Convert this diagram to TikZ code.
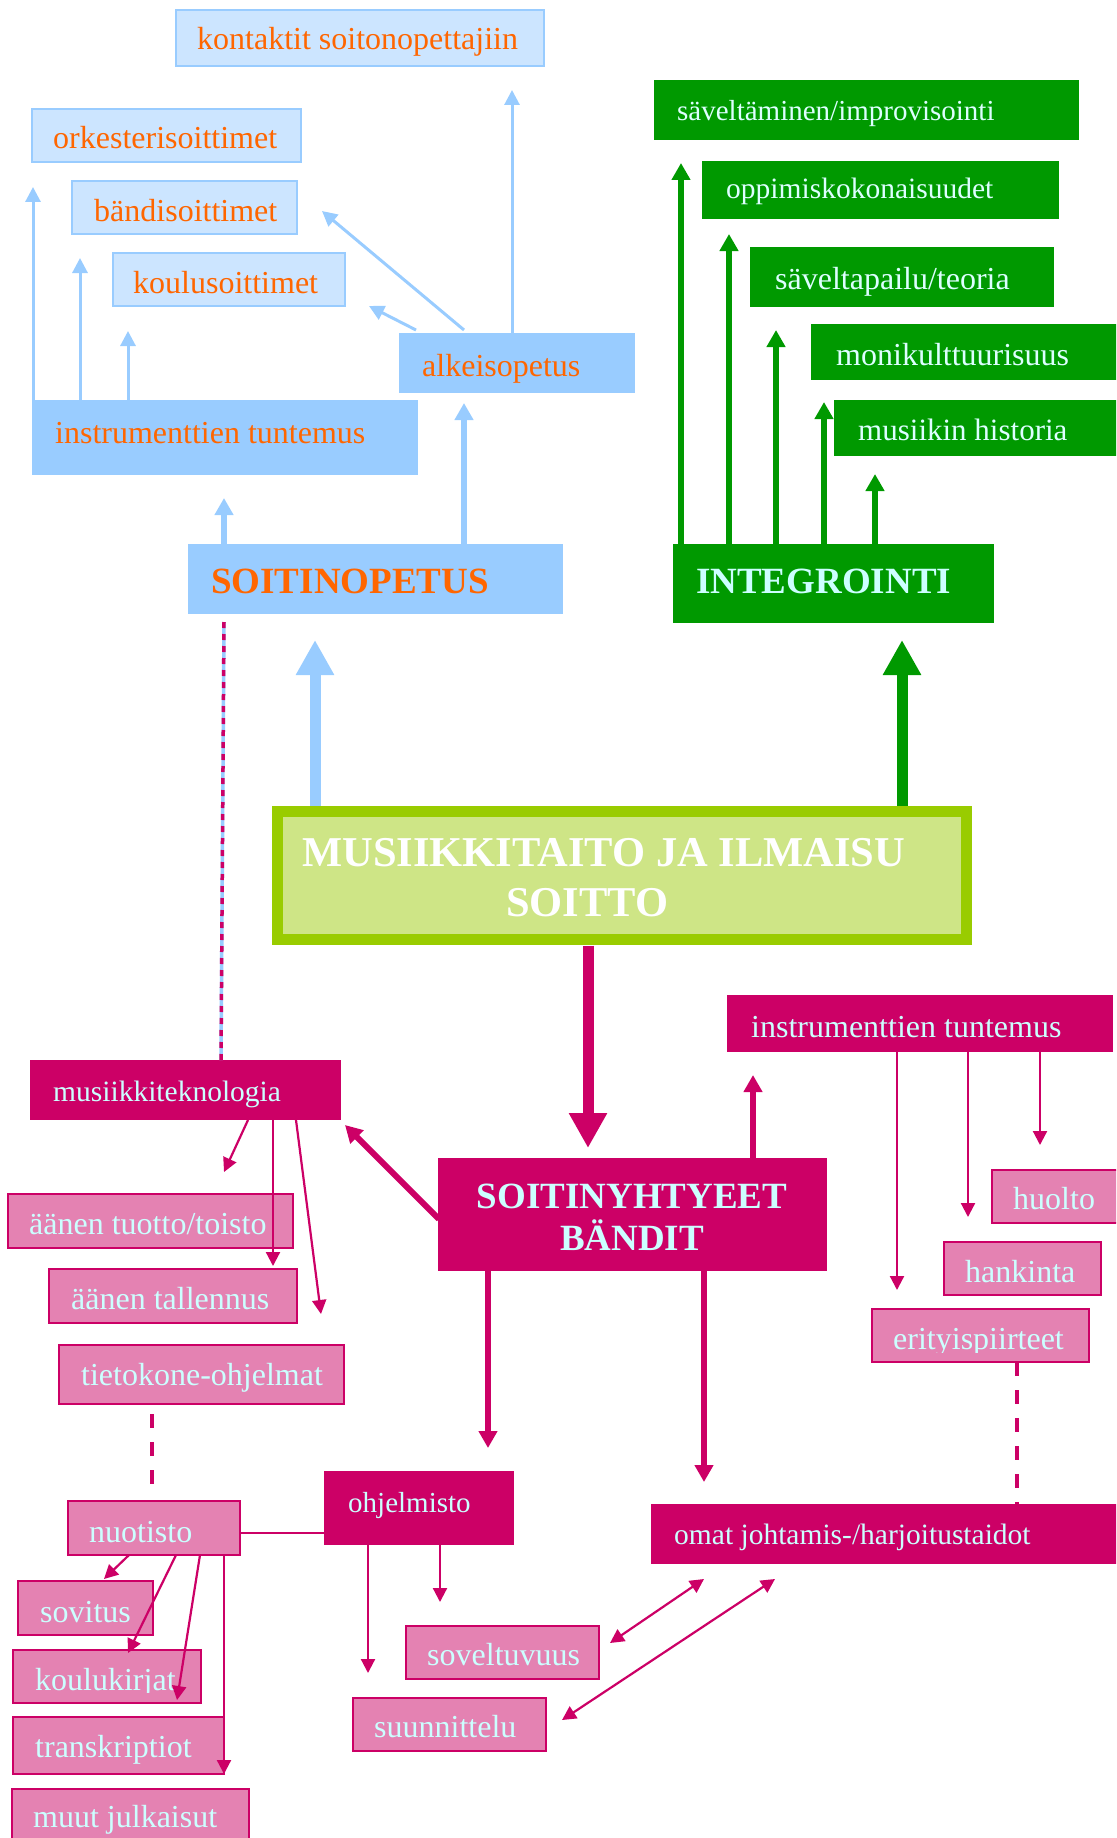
\documentclass[tikz,border=0pt]{standalone}
\usepackage{fontspec}
\setmainfont{Liberation Serif}
\usetikzlibrary{arrows.meta}
\definecolor{mag}{HTML}{CC0066}
\definecolor{pinkf}{HTML}{E482B2}
\definecolor{cyantext}{HTML}{CCFFFF}
\definecolor{gtext}{HTML}{DDFFFF}
\definecolor{grn}{HTML}{009900}
\definecolor{lblue}{HTML}{99CCFF}
\definecolor{pblue}{HTML}{CCE5FF}
\definecolor{orng}{HTML}{FF6600}
\definecolor{lime}{HTML}{99CC00}
\definecolor{limefill}{HTML}{CEE586}
\newcommand\fsz[1]{\fontsize{#1}{#1}\selectfont}
\newcommand\bx[6]{\node[#1,anchor=north west,inner sep=0pt,outer sep=0pt,minimum width={(#5-#3)*1pt},minimum height={(#6-#4)*1pt}] (#2) at (#3,#4) {};}
\tikzset{
  bluebox/.style={draw=lblue,fill=pblue,line width=2pt},
  blueblock/.style={fill=lblue},
  greenblock/.style={fill=grn},
  magblock/.style={fill=mag},
  pinkbox/.style={draw=mag,fill=pinkf,line width=2pt},
  otxt/.style={anchor=base west,inner sep=0pt,text=orng,font=\fsz{32}},
  gtxt/.style={anchor=base west,inner sep=0pt,text=gtext,font=\fsz{32}},
  ctxt/.style={anchor=base west,inner sep=0pt,text=cyantext,font=\fsz{32}},
  bthin/.style={draw=lblue,line width=3pt,-{Triangle[length=15pt,width=15pt]}},
  bmid/.style={draw=lblue,line width=6pt,-{Triangle[length=17pt,width=18pt]}},
  gmid/.style={draw=grn,line width=6pt,-{Triangle[length=17pt,width=18pt]}},
  mmid/.style={draw=mag,line width=6pt,-{Triangle[length=17pt,width=18pt]}},
  mthin/.style={draw=mag,line width=2.2pt,-{Triangle[length=14pt,width=14pt]}},
  mdbl/.style={draw=mag,line width=2.2pt,{Triangle[length=14pt,width=14pt]}-{Triangle[length=14pt,width=14pt]}},
  bigarrow/.style={line width=11pt,-{Triangle[length=35pt,width=36pt]}},
  dashline/.style={draw=mag,line width=4pt,dash pattern=on 14pt off 14pt}
}
\begin{document}
\begin{tikzpicture}[x=1pt,y=-1pt]
\useasboundingbox (0,0) rectangle (1116,1838);
\clip (0,0) rectangle (1116,1838);

% ---------- top (blue) ----------
\bx{bluebox}{kont}{176}{10}{544}{66}
\node[otxt] (kontT) at (197,50) {kontaktit soitonopettajiin};
\bx{bluebox}{orke}{32}{109}{301}{162}
\node[otxt] (orkeT) at (53,149) {orkesterisoittimet};
\bx{bluebox}{band}{72}{181}{297}{234}
\node[otxt] (bandT) at (94,221) {bändisoittimet};
\bx{bluebox}{koul}{113}{253}{345}{306}
\node[otxt] (koulT) at (133,293) {koulusoittimet};
\bx{blueblock}{alk}{399}{333}{635}{393}
\node[otxt] (alkT) at (422,376) {alkeisopetus};
\bx{blueblock}{instL}{32}{400}{418}{475}
\node[otxt] (instLT) at (55,443) {instrumenttien tuntemus};
\bx{blueblock}{soit}{188}{544}{563}{614}
\node[otxt,font=\bfseries\fsz{37}] (soitT) at (211,593) {SOITINOPETUS};

% ---------- green ----------
\bx{greenblock}{sav}{654}{80}{1079}{140}
\node[gtxt,font=\fsz{29}] (savT) at (677,121) {säveltäminen/improvisointi};
\bx{greenblock}{opp}{702}{161}{1059}{219}
\node[gtxt,font=\fsz{29.5}] (oppT) at (726,199) {oppimiskokonaisuudet};
\bx{greenblock}{teo}{750}{247}{1054}{307}
\node[gtxt] (teoT) at (775,289) {säveltapailu/teoria};
\bx{greenblock}{moni}{811}{324}{1125}{380}
\node[gtxt] (moniT) at (836,365) {monikulttuurisuus};
\bx{greenblock}{hist}{834}{400}{1125}{456}
\node[gtxt,font=\fsz{31}] (histT) at (858,440) {musiikin historia};
\bx{greenblock}{integ}{673}{544}{994}{623}
\node[anchor=base west,inner sep=0pt,text=cyantext,font=\bfseries\fsz{37}] (integT) at (696,593) {INTEGROINTI};

% ---------- main box ----------
\node[draw=lime,fill=limefill,line width=11pt,anchor=north west,inner sep=0pt,outer sep=0pt,minimum width=689pt,minimum height=128pt] (main) at (277.5,811.5) {};
\node[anchor=base west,inner sep=0pt,text=white,font=\bfseries\fsz{42.5}] (mainT1) at (302,866) {MUSIIKKITAITO JA ILMAISU};
\node[anchor=base west,inner sep=0pt,text=white,font=\bfseries\fsz{42.5}] (mainT2) at (506,916) {SOITTO};

% ---------- magenta ----------
\bx{magblock}{soy}{438}{1158}{827}{1271}
\node[anchor=base,inner sep=0pt,text=cyantext,font=\bfseries\fsz{37}] (soyT1) at (632,1208) {SOITINYHTYEET};
\node[anchor=base,inner sep=0pt,text=cyantext,font=\bfseries\fsz{37}] (soyT2) at (632,1250) {BÄNDIT};

\bx{magblock}{instR}{727}{995}{1113}{1052}
\node[ctxt] (instRT) at (751,1037) {instrumenttien tuntemus};
\bx{pinkbox}{huol}{992}{1170}{1130}{1223}
\node[ctxt] (huolT) at (1013,1209) {huolto};
\bx{pinkbox}{hank}{944}{1242}{1101}{1295}
\node[ctxt] (hankT) at (965,1282) {hankinta};
\bx{pinkbox}{erit}{872}{1309}{1089}{1362}
\begin{scope}
\clip (872,1309) rectangle (1089,1352);
\node[ctxt] (eritT) at (893,1349) {erityispiirteet};
\end{scope}
\bx{magblock}{omat}{651}{1504}{1130}{1564}
\node[ctxt,font=\fsz{29.5}] (omatT) at (674,1544) {omat johtamis-/harjoitustaidot};

\bx{magblock}{mtek}{30}{1060}{341}{1120}
\node[ctxt,font=\fsz{29.5}] (mtekT) at (53,1101) {musiikkiteknologia};
\bx{pinkbox}{aant}{8}{1194}{293}{1248}
\node[ctxt] (aantT) at (29,1234) {äänen tuotto/toisto};
\bx{pinkbox}{aanl}{49}{1269}{297}{1323}
\node[ctxt] (aanlT) at (71,1309) {äänen tallennus};
\bx{pinkbox}{tiet}{59}{1345}{344}{1404}
\node[ctxt] (tietT) at (81,1385) {tietokone-ohjelmat};
\bx{pinkbox}{nuot}{68}{1501}{240}{1555}
\node[ctxt] (nuotT) at (89,1542) {nuotisto};
\bx{magblock}{ohj}{324}{1471}{514}{1545}
\node[ctxt,font=\fsz{29}] (ohjT) at (348,1512) {ohjelmisto};
\bx{pinkbox}{sovi}{18}{1581}{153}{1635}
\node[ctxt] (soviT) at (40,1622) {sovitus};
\bx{pinkbox}{kouk}{13}{1650}{201}{1703}
\begin{scope}
\clip (13,1650) rectangle (201,1692);
\node[ctxt] (koukT) at (35,1690) {koulukirjat};
\end{scope}
\bx{pinkbox}{tran}{13}{1717}{224}{1774}
\node[ctxt] (tranT) at (35,1757) {transkriptiot};
\bx{pinkbox}{muut}{12}{1789}{249}{1850}
\node[ctxt] (muutT) at (33,1827) {muut julkaisut};
\bx{pinkbox}{sove}{406}{1626}{599}{1679}
\node[ctxt] (soveT) at (427,1665) {soveltuvuus};
\bx{pinkbox}{suun}{353}{1698}{546}{1751}
\node[ctxt] (suunT) at (374,1737) {suunnittelu};

% ---------- coordinates (arrow tips / start columns) ----------
\coordinate (b1) at (33,187);
\coordinate (b2) at (80,258);
\coordinate (b3) at (128,331);
\coordinate (b4s) at (464,330);  \coordinate (b4) at (322,211);
\coordinate (b5s) at (416,330);  \coordinate (b5) at (369,306);
\coordinate (b6) at (512,90);
\coordinate (b7) at (464,403);
\coordinate (b8) at (224,498);
\coordinate (B1) at (315,640);
\coordinate (B2) at (902,640);
\coordinate (B3) at (588,1148);
\coordinate (g1) at (681,163);
\coordinate (g2) at (729,234);
\coordinate (g3) at (776,330);
\coordinate (g4) at (824,402);
\coordinate (g5) at (875,474);
\coordinate (m1) at (753,1075);
\coordinate (m2) at (704,1482);
\coordinate (m3) at (488,1448);
\coordinate (m4s) at (439,1219); \coordinate (m4) at (345,1125);
\coordinate (r1) at (897,1290);
\coordinate (r2) at (968,1217);
\coordinate (r3) at (1040,1145);
\coordinate (t1s) at (248,0); \coordinate (t1) at (224,1172);
\coordinate (t2) at (273,1266);
\coordinate (t3s) at (296,0); \coordinate (t3) at (321,1314);
\coordinate (n1s) at (129,0); \coordinate (n1) at (104,1579);
\coordinate (n2s) at (176,0); \coordinate (n2) at (128,1653);
\coordinate (n3s) at (200,0); \coordinate (n3) at (177,1700);
\coordinate (n4) at (224,1774);
\coordinate (o1) at (368,1673);
\coordinate (o2) at (440,1602);
\coordinate (d1a) at (704,1579); \coordinate (d1b) at (610,1643);
\coordinate (d2a) at (775,1579); \coordinate (d2b) at (562,1720);
\coordinate (nl) at (0,1533);
\coordinate (dk1) at (152,1414); \coordinate (dk2) at (152,1485);
\coordinate (de) at (1017,0);
\coordinate (st1) at (224,0); \coordinate (st2) at (221,0);

% ---------- connectors ----------
% blue
\draw[bthin] (instL.north -| b1) -- (b1);
\draw[bthin] (instL.north -| b2) -- (b2);
\draw[bthin] (instL.north -| b3) -- (b3);
\draw[bthin] (b4s) -- (b4);
\draw[bthin] (b5s) -- (b5);
\draw[bthin] (alk.north -| b6) -- (b6);
\draw[bmid] (soit.north -| b7) -- (b7);
\draw[bmid] (soit.north -| b8) -- (b8);
% big
\draw[bigarrow,draw=lblue] (main.north -| B1) ++(0,-6) -- (B1);
\draw[bigarrow,draw=grn] (main.north -| B2) ++(0,-6) -- (B2);
\draw[bigarrow,draw=mag] (main.south -| B3) ++(0,6) -- (B3);
% green
\draw[gmid] (integ.north -| g1) -- (g1);
\draw[gmid] (integ.north -| g2) -- (g2);
\draw[gmid] (integ.north -| g3) -- (g3);
\draw[gmid] (integ.north -| g4) -- (g4);
\draw[gmid] (integ.north -| g5) -- (g5);
% magenta thick
\draw[mmid] (soy.north -| m1) -- (m1);
\draw[mmid] (soy.south -| m2) -- (m2);
\draw[mmid] (soy.south -| m3) -- (m3);
\draw[mmid] (m4s) -- (m4);
% magenta thin
\draw[mthin] (instR.south -| r1) -- (r1);
\draw[mthin] (instR.south -| r2) -- (r2);
\draw[mthin] (instR.south -| r3) -- (r3);
\draw[mthin] (mtek.south -| t1s) -- (t1);
\draw[mthin] (mtek.south -| t2) -- (t2);
\draw[mthin] (mtek.south -| t3s) -- (t3);
\draw[mthin] (nuot.south -| n1s) -- (n1);
\draw[mthin] (nuot.south -| n2s) -- (n2);
\draw[mthin] (nuot.south -| n3s) -- (n3);
\draw[mthin] (nuot.south -| n4) -- (n4);
\draw[mthin] (ohj.south -| o1) -- (o1);
\draw[mthin] (ohj.south -| o2) -- (o2);
\draw[mdbl] (d1a) -- (d1b);
\draw[mdbl] (d2a) -- (d2b);
\draw[draw=mag,line width=2pt] (nuot.east |- nl) -- (ohj.west |- nl);
% dashed
\draw[dashline] (dk1) -- (dk2);
\draw[dashline] (erit.south -| de) -- (omat.north -| de);
\draw[draw=lblue,line width=3.5pt] (soit.south -| st1) ++(0,8) -- (mtek.north -| st2);
\draw[draw=mag,line width=3.5pt,dash pattern=on 6pt off 6pt] (soit.south -| st1) ++(0,8) -- (mtek.north -| st2);
\end{tikzpicture}
\end{document}
